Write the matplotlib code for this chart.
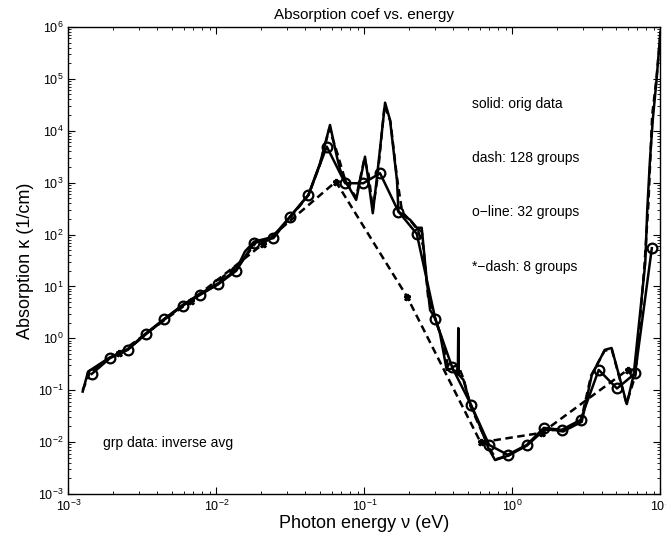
import matplotlib
matplotlib.use("Agg")
import matplotlib.pyplot as plt
from matplotlib.ticker import LogLocator, NullFormatter

plt.rcParams['font.family'] = ['Liberation Sans', 'DejaVu Sans']
plt.rcParams['mathtext.fontset'] = 'custom'
plt.rcParams['mathtext.rm'] = 'Liberation Sans'

# original data (solid)
orig_x = [0.00125, 0.00136, 0.00191, 0.00252, 0.00335, 0.00445, 0.00593, 0.00776,
          0.0103, 0.0136, 0.0156, 0.018, 0.0239, 0.0315, 0.0419, 0.0502, 0.0586,
          0.0652, 0.0686, 0.076, 0.088, 0.101, 0.1064, 0.114, 0.121, 0.138, 0.149,
          0.166, 0.17, 0.204, 0.226, 0.244, 0.264, 0.278, 0.301, 0.324, 0.36, 0.39,
          0.428, 0.431, 0.434, 0.467, 0.518, 0.605, 0.689, 0.764, 0.94, 1.256, 1.66,
          2.22, 2.94, 3.44, 4.21, 4.68, 5.93, 6.6, 7.9, 8.15, 8.5, 8.9, 9.4, 10.0]
orig_y = [0.094, 0.228, 0.43, 0.62, 1.25, 2.37, 4.4, 7.2,
          11.5, 20.8, 47, 73, 89, 221, 580, 2370, 12900,
          3160, 1760, 973, 464, 3160, 1120, 257, 1120, 34700, 16200,
          1120, 276, 191, 135, 135, 13, 3.5, 2.44, 1.25, 0.246, 0.26,
          0.2, 1.57, 0.2, 0.158, 0.056, 0.02, 0.0076, 0.0045, 0.0055, 0.0086, 0.0177,
          0.0164, 0.0245, 0.197, 0.60, 0.65, 0.054, 0.2, 28, 300, 2740, 17400, 9e4, 8e5]

# 128 groups (dash)
g128_x = [0.00125, 0.0014, 0.0019, 0.0025, 0.0034, 0.0045, 0.006, 0.0078, 0.0104,
          0.0111, 0.014, 0.016, 0.0185, 0.024, 0.032, 0.042, 0.05, 0.058, 0.066, 0.075,
          0.088, 0.1, 0.107, 0.114, 0.122, 0.137, 0.15, 0.166, 0.18, 0.21, 0.23, 0.25,
          0.27, 0.3, 0.33, 0.37, 0.43, 0.47, 0.52, 0.6, 0.7, 0.78, 0.95, 1.25, 1.65,
          2.2, 2.9, 3.4, 4.2, 4.7, 5.9, 6.8, 7.8, 8.3, 8.8, 9.4, 10.0]
g128_y = [0.1, 0.22, 0.42, 0.6, 1.25, 2.35, 4.4, 7.1, 11.3,
          15.5, 24, 40, 70, 88, 220, 580, 2200, 11000, 3500, 1000,
          520, 2900, 1400, 300, 1100, 31000, 15000, 1250, 270, 170, 120, 60,
          6, 2.4, 1.1, 0.27, 0.3, 0.16, 0.05, 0.02, 0.0075, 0.0047, 0.0056, 0.0088, 0.018,
          0.016, 0.025, 0.19, 0.58, 0.6, 0.055, 0.2, 25, 400, 2e4, 1e5, 7e5]

# 32 groups (o-line)
g32_x = [0.00144, 0.00191, 0.00252, 0.00335, 0.00445, 0.00593, 0.00776, 0.0103,
         0.0136, 0.018, 0.0243, 0.0315, 0.0419, 0.0557, 0.0741, 0.0984, 0.1276, 0.17,
         0.226, 0.302, 0.392, 0.526, 0.697, 0.929, 1.25, 1.63, 2.15, 2.89, 3.83, 5.09,
         6.75, 8.75]
g32_y = [0.206, 0.414, 0.60, 1.22, 2.33, 4.27, 6.86, 11.0,
         19.9, 70, 85, 221, 580, 4940, 973, 973, 1517, 276,
         103, 2.31, 0.275, 0.052, 0.0088, 0.0057, 0.0088, 0.0188, 0.0172, 0.0268, 0.246, 0.108,
         0.211, 54.5]

# 8 groups (*-dash)
g8_x = [0.00221, 0.00675, 0.0207, 0.0642, 0.194, 0.61, 1.58, 6.0]
g8_y = [0.516, 5.3, 66, 1044, 6.36, 0.00986, 0.0151, 0.246]

fig = plt.figure(figsize=(6.66, 5.45), dpi=100)
ax = fig.add_axes([0.1026, 0.0936, 0.889, 0.857])

lw = 1.8
dash = (0, (3, 1.8))
ax.loglog(orig_x, orig_y, '-', color='black', lw=lw)
ax.loglog(g128_x, g128_y, color='black', lw=lw, linestyle=dash)
ax.loglog(g32_x, g32_y, '-', color='black', lw=lw, marker='o', markersize=7,
          markerfacecolor='none', markeredgewidth=1.6)
ax.loglog(g8_x, g8_y, color='black', lw=lw, linestyle=dash, marker='*',
          markersize=5, markeredgewidth=2)

ax.set_xlim(1e-3, 1e1)
ax.set_ylim(1e-3, 1e6)
ax.xaxis.set_major_locator(LogLocator(base=10, numticks=10))
ax.yaxis.set_major_locator(LogLocator(base=10, numticks=12))
ax.xaxis.set_minor_locator(LogLocator(base=10, subs=range(2, 10), numticks=50))
ax.yaxis.set_minor_locator(LogLocator(base=10, subs=range(2, 10), numticks=50))
ax.xaxis.set_minor_formatter(NullFormatter())
ax.yaxis.set_minor_formatter(NullFormatter())
ax.tick_params(which='both', direction='in', top=True, right=True, labelsize=9)
ax.tick_params(which='major', length=5, width=0.8)
ax.tick_params(which='minor', length=2.5, width=0.6)
for s in ax.spines.values():
    s.set_linewidth(1.0)

ax.set_title("Absorption coef vs. energy", fontsize=11, pad=6)
ax.set_xlabel("Photon energy ν (eV)", fontsize=13, labelpad=1)
ax.set_ylabel("Absorption κ (1/cm)", fontsize=13, labelpad=3)

tx = 0.682
ax.text(tx, 0.835, "solid: orig data", transform=ax.transAxes, fontsize=10, va='center')
ax.text(tx, 0.72, "dash: 128 groups", transform=ax.transAxes, fontsize=10, va='center')
ax.text(tx, 0.604, "o\u2212line: 32 groups", transform=ax.transAxes, fontsize=10, va='center')
ax.text(tx, 0.486, "*\u2212dash: 8 groups", transform=ax.transAxes, fontsize=10, va='center')
ax.text(0.059, 0.109, "grp data: inverse avg", transform=ax.transAxes, fontsize=10, va='center')

fig.savefig("out.png", dpi=100)
